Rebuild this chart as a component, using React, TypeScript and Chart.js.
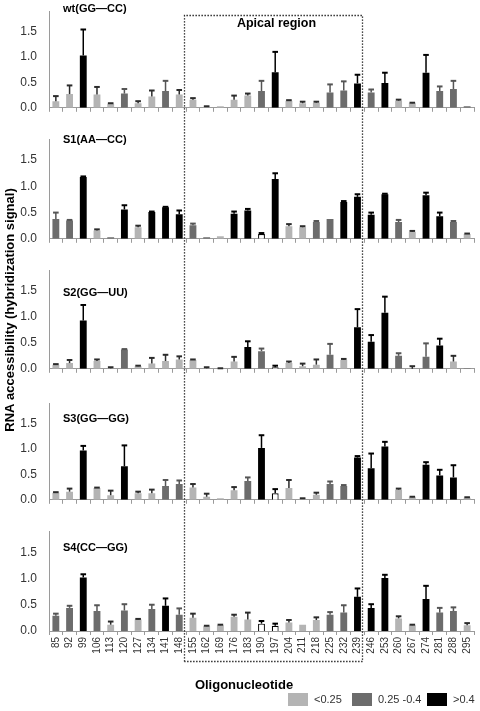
import React, { useEffect, useRef } from "react";
import { Chart, registerables } from "chart.js";

Chart.register(...registerables);

// ---------------- DATA ----------------
const categories = [
  "85", "92", "99", "106", "113", "120", "127", "134", "141", "148", "155",
  "162", "169", "176", "183", "190", "197", "204", "211", "218", "225", "232",
  "239", "246", "253", "260", "267", "274", "281", "288", "295",
];

const panelNames = ["wt(GG\u2014CC)", "S1(AA\u2014CC)", "S2(GG\u2014UU)", "S3(GG\u2014GG)", "S4(CC\u2014GG)"];

// class codes: L = <0.25, D = 0.25-0.4, B = >0.4, W = open (white) bar
const wtValues = [0.13, 0.27, 1.03, 0.26, 0.08, 0.28, 0.09, 0.22, 0.33, 0.26, 0.16, 0.02, 0.03, 0.16, 0.24, 0.33, 0.70, 0.14, 0.09, 0.10, 0.30, 0.34, 0.48, 0.30, 0.49, 0.14, 0.09, 0.69, 0.33, 0.37, 0.03];
const wtErrors = [0.10, 0.17, 0.51, 0.15, 0.01, 0.09, 0.04, 0.12, 0.20, 0.09, 0.03, 0.01, 0.00, 0.08, 0.04, 0.20, 0.40, 0.01, 0.03, 0.02, 0.16, 0.18, 0.17, 0.06, 0.20, 0.02, 0.01, 0.35, 0.09, 0.16, 0.00];
const wtClasses = ["L", "L", "B", "L", "L", "D", "L", "L", "D", "L", "L", "L", "L", "L", "L", "D", "B", "L", "L", "L", "D", "D", "B", "D", "B", "L", "L", "B", "D", "D", "D"];

const s1Values = [0.38, 0.35, 1.18, 0.16, 0.03, 0.56, 0.22, 0.51, 0.60, 0.47, 0.26, 0.03, 0.05, 0.48, 0.54, 0.09, 1.14, 0.24, 0.22, 0.32, 0.38, 0.70, 0.80, 0.46, 0.85, 0.32, 0.13, 0.83, 0.43, 0.32, 0.09];
const s1Errors = [0.12, 0.01, 0.01, 0.02, 0.00, 0.08, 0.03, 0.01, 0.01, 0.07, 0.03, 0.00, 0.00, 0.04, 0.03, 0.02, 0.11, 0.04, 0.02, 0.02, 0.00, 0.02, 0.05, 0.04, 0.01, 0.04, 0.02, 0.05, 0.07, 0.02, 0.01];
const s1Classes = ["D", "D", "B", "L", "D", "B", "L", "B", "B", "B", "D", "D", "L", "B", "B", "W", "B", "L", "L", "D", "D", "B", "B", "B", "B", "D", "L", "B", "B", "D", "L"];

const s2Values = [0.08, 0.11, 0.93, 0.15, 0.01, 0.37, 0.05, 0.10, 0.15, 0.18, 0.17, 0.01, 0.00, 0.14, 0.42, 0.34, 0.03, 0.11, 0.05, 0.08, 0.27, 0.17, 0.80, 0.52, 1.08, 0.25, 0.00, 0.23, 0.45, 0.14, 0.01];
const s2Errors = [0.01, 0.06, 0.30, 0.03, 0.02, 0.01, 0.01, 0.11, 0.12, 0.06, 0.01, 0.02, 0.01, 0.09, 0.11, 0.05, 0.03, 0.03, 0.05, 0.10, 0.21, 0.02, 0.35, 0.13, 0.31, 0.05, 0.05, 0.26, 0.13, 0.11, 0.00];
const s2Classes = ["L", "L", "B", "L", "L", "D", "L", "L", "L", "L", "L", "L", "L", "L", "B", "D", "W", "L", "L", "L", "D", "L", "B", "B", "B", "D", "L", "D", "B", "L", "D"];

const s3Values = [0.14, 0.16, 0.97, 0.23, 0.09, 0.66, 0.13, 0.13, 0.27, 0.31, 0.24, 0.06, 0.03, 0.19, 0.37, 1.02, 0.13, 0.23, 0.02, 0.10, 0.31, 0.27, 0.83, 0.62, 1.05, 0.20, 0.05, 0.69, 0.48, 0.44, 0.04];
const s3Errors = [0.01, 0.06, 0.09, 0.01, 0.09, 0.41, 0.03, 0.07, 0.12, 0.07, 0.07, 0.06, 0.00, 0.06, 0.07, 0.25, 0.08, 0.16, 0.01, 0.04, 0.05, 0.02, 0.03, 0.29, 0.09, 0.02, 0.01, 0.05, 0.11, 0.24, 0.01];
const s3Classes = ["L", "L", "B", "L", "L", "B", "L", "L", "D", "D", "L", "L", "L", "L", "D", "B", "W", "L", "L", "L", "D", "D", "B", "B", "B", "L", "L", "B", "B", "B", "L"];

const s4Values = [0.29, 0.44, 1.02, 0.38, 0.12, 0.39, 0.22, 0.42, 0.48, 0.31, 0.25, 0.09, 0.11, 0.27, 0.22, 0.14, 0.10, 0.16, 0.12, 0.21, 0.31, 0.35, 0.65, 0.44, 1.01, 0.24, 0.11, 0.61, 0.35, 0.38, 0.11];
const s4Errors = [0.04, 0.04, 0.06, 0.11, 0.06, 0.12, 0.01, 0.08, 0.14, 0.12, 0.08, 0.01, 0.01, 0.04, 0.13, 0.05, 0.04, 0.05, 0.00, 0.05, 0.05, 0.14, 0.16, 0.07, 0.06, 0.04, 0.01, 0.25, 0.09, 0.07, 0.04];
const s4Classes = ["D", "D", "B", "D", "L", "D", "L", "D", "B", "D", "L", "L", "L", "L", "L", "W", "W", "L", "L", "L", "D", "D", "B", "B", "B", "L", "L", "B", "D", "D", "L"];

const legendLabels = ["<0.25", "0.25 -0.4", ">0.4"];
const legendClasses = ["L", "D", "B"];

const yMin = 0;
const yMax = 1.9;
const yStep = 0.5;

const apicalLabel = "Apical region";
const apicalStart = "155";
const apicalEnd = "239";
const yTitle = "RNA accessibility (hybridization signal)";
const xTitle = "Oligonucleotide";

const series = [
  { values: wtValues, errors: wtErrors, classes: wtClasses },
  { values: s1Values, errors: s1Errors, classes: s1Classes },
  { values: s2Values, errors: s2Errors, classes: s2Classes },
  { values: s3Values, errors: s3Errors, classes: s3Classes },
  { values: s4Values, errors: s4Errors, classes: s4Classes },
];

// ---------------- STYLE / LAYOUT ----------------
const FONT = "'Liberation Sans', Arial, Helvetica, sans-serif";
const FILL: Record<string, string> = { L: "#b4b4b4", D: "#6c6c6c", B: "#000000", W: "#ffffff" };
const ERR: Record<string, string> = { L: "#2b2b2b", D: "#555555", B: "#000000", W: "#000000" };
const AXIS = "#9a9a9a";
const W = 480;
const H = 711;
const PAD_T = 4;
const PANELS = [
  { top: 4, zero: 113, labelY: 9 },
  { top: 132, zero: 244, labelY: 140 },
  { top: 263, zero: 374, labelY: 293 },
  { top: 396, zero: 505, labelY: 419 },
  { top: 524, zero: 631, labelY: 548 },
];
const X_AXIS_H_PLAIN = 6;
const X_AXIS_H_LABELS = 30;

function makeErrorPlugin(errors: number[], classes: string[]) {
  return {
    id: "errorBars",
    afterDatasetsDraw(chart: any) {
      const meta = chart.getDatasetMeta(0);
      const ys = chart.scales.y;
      const ctx = chart.ctx;
      const values = chart.data.datasets[0].data as number[];
      ctx.save();
      meta.data.forEach((bar: any, i: number) => {
        const e = errors[i];
        if (!(e > 0)) return;
        const yTop = ys.getPixelForValue(values[i] + e);
        const yBase = bar.y;
        ctx.strokeStyle = ERR[classes[i]];
        ctx.lineWidth = 1.5;
        ctx.beginPath();
        ctx.moveTo(bar.x, yBase);
        ctx.lineTo(bar.x, yTop);
        ctx.stroke();
        ctx.lineWidth = 2;
        ctx.beginPath();
        ctx.moveTo(bar.x - 2.8, yTop);
        ctx.lineTo(bar.x + 2.8, yTop);
        ctx.stroke();
      });
      ctx.restore();
    },
  };
}

function makeLabelPlugin(text: string, yInCanvas: number) {
  return {
    id: "panelLabel",
    afterDraw(chart: any) {
      const ctx = chart.ctx;
      ctx.save();
      ctx.font = `bold 11px ${FONT}`;
      ctx.fillStyle = "#000";
      ctx.textAlign = "left";
      ctx.textBaseline = "middle";
      ctx.fillText(text, chart.chartArea.left + 14, yInCanvas);
      ctx.restore();
    },
  };
}

export default function App() {
  const refs = useRef<(HTMLCanvasElement | null)[]>([]);
  const overlayRef = useRef<HTMLCanvasElement | null>(null);

  useEffect(() => {
    Chart.defaults.font.family = FONT;
    const charts = PANELS.map((p, i) => {
      const canvas = refs.current[i]!;
      const isLast = i === PANELS.length - 1;
      const s = series[i];
      const canvasTop = p.top - PAD_T;
      return new Chart(canvas, {
        type: "bar",
        data: {
          labels: categories,
          datasets: [
            {
              data: s.values,
              backgroundColor: s.classes.map((c) => FILL[c]),
              borderColor: s.classes.map((c) => (c === "W" ? "#000" : "rgba(0,0,0,0)")),
              borderWidth: s.classes.map((c) => (c === "W" ? 1.2 : 0)),
              barPercentage: 0.5,
              categoryPercentage: 1,
            },
          ],
        },
        options: {
          responsive: false,
          maintainAspectRatio: false,
          animation: false,
          events: [],
          layout: { padding: { left: 0, right: 6, top: PAD_T, bottom: 0 } },
          plugins: { legend: { display: false }, tooltip: { enabled: false } },
          scales: {
            x: {
              offset: true,
              grid: { display: true, drawOnChartArea: false, drawTicks: true, tickLength: 4, color: AXIS, offset: true },
              border: { display: true, color: AXIS, width: 1 },
              ticks: {
                display: isLast,
                autoSkip: false,
                minRotation: 90,
                maxRotation: 90,
                padding: 2,
                color: "#333",
                font: { size: 10, family: FONT },
              },
              afterFit: (sc: any) => {
                sc.height = isLast ? X_AXIS_H_LABELS : X_AXIS_H_PLAIN;
                sc.paddingLeft = 0;
                sc.paddingRight = 0;
              },
            },
            y: {
              min: yMin,
              max: yMax,
              grid: { display: false },
              border: { display: true, color: AXIS, width: 1 },
              ticks: {
                stepSize: yStep,
                includeBounds: false,
                padding: 4,
                color: "#333",
                font: { size: 12, family: FONT },
                callback: (v: any) => Number(v).toFixed(1),
              },
              afterFit: (sc: any) => {
                sc.width = 49;
              },
            },
          },
        },
        plugins: [makeErrorPlugin(s.errors, s.classes), makeLabelPlugin(panelNames[i], p.labelY - canvasTop)],
      } as any);
    });

    // overlay: apical box, titles, legend
    const ov = overlayRef.current!;
    const ctx = ov.getContext("2d")!;
    ctx.clearRect(0, 0, W, H);
    const last = charts[charts.length - 1];
    const xs: any = last.scales.x;
    const step = xs.getPixelForValue(1) - xs.getPixelForValue(0);
    const left = Math.round(xs.getPixelForValue(categories.indexOf(apicalStart)) - 0.62 * step) + 0.5;
    const right = Math.round(xs.getPixelForValue(categories.indexOf(apicalEnd)) + 0.32 * step) + 0.5;
    const boxTop = 15.5;
    const boxBottom = 661.5;
    ctx.save();
    ctx.strokeStyle = "#111";
    ctx.lineWidth = 1.3;
    ctx.setLineDash([1.3, 1.7]);
    ctx.beginPath();
    ctx.moveTo(left, boxBottom);
    ctx.lineTo(left, boxTop);
    ctx.lineTo(right, boxTop);
    ctx.lineTo(right, boxBottom);
    ctx.lineTo(left, boxBottom);
    ctx.stroke();
    ctx.restore();

    ctx.save();
    ctx.fillStyle = "#000";
    ctx.font = `bold 12.5px ${FONT}`;
    ctx.textAlign = "center";
    ctx.textBaseline = "middle";
    ctx.fillText(apicalLabel, (left + right) / 2 + 3, 24);

    ctx.font = `bold 13px ${FONT}`;
    ctx.fillText(xTitle, 244, 685);

    ctx.save();
    ctx.translate(10, 310);
    ctx.rotate(-Math.PI / 2);
    ctx.fillText(yTitle, 0, 0);
    ctx.restore();

    const legendX = [288, 352, 427];
    ctx.font = `11px ${FONT}`;
    ctx.textAlign = "left";
    legendLabels.forEach((lab, k) => {
      ctx.fillStyle = FILL[legendClasses[k]];
      ctx.fillRect(legendX[k], 693, 20, 13);
      ctx.fillStyle = "#333";
      ctx.fillText(lab, legendX[k] + 26, 700);
    });
    ctx.restore();

    return () => {
      charts.forEach((c) => c.destroy());
    };
  }, []);

  return (
    <div style={{ position: "absolute", left: 0, top: 0, width: W, height: H, background: "#fff" }}>
      {PANELS.map((p, i) => {
        const isLast = i === PANELS.length - 1;
        const canvasTop = p.top - PAD_T;
        const h = p.zero - p.top + PAD_T + (isLast ? X_AXIS_H_LABELS : X_AXIS_H_PLAIN);
        return (
          <canvas
            key={i}
            ref={(el) => {
              refs.current[i] = el;
            }}
            width={W}
            height={h}
            style={{ position: "absolute", left: 0, top: canvasTop, width: W, height: h }}
          />
        );
      })}
      <canvas
        ref={overlayRef}
        width={W}
        height={H}
        style={{ position: "absolute", left: 0, top: 0, width: W, height: H, pointerEvents: "none" }}
      />
    </div>
  );
}
